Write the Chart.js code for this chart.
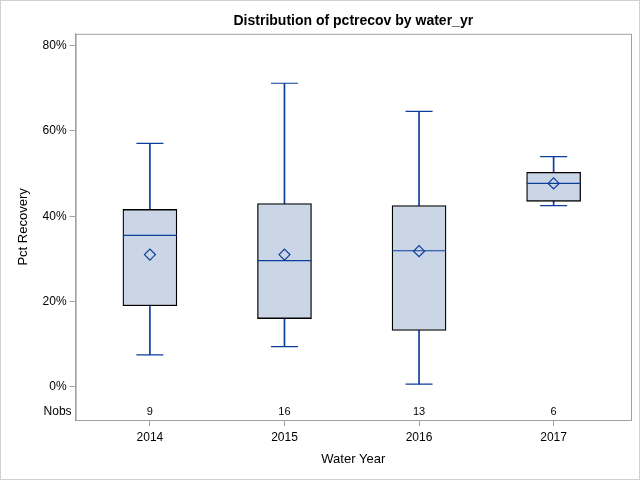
<!DOCTYPE html>
<html>
<head>
<meta charset="utf-8">
<script src="https://cdn.jsdelivr.net/npm/chart.js@4/dist/chart.umd.min.js"></script>
<style>
  body { margin: 0; background: #fff; }
  #wrap { width: 638px; height: 478px; border: 1px solid #d0d0d0; }
</style>
</head>
<body>
<div id="wrap"><canvas id="boxChart" width="638" height="478"></canvas></div>
<script>
// water years and box stats (pct recovery, %)
const years = [2014, 2015, 2016, 2017];
const minVals = [7.5, 9.4, 0.6, 42.5];
const q1Vals = [19.0, 16.0, 13.2, 43.5];
const medianVals = [35.5, 29.6, 31.9, 47.7];
const meanVals = [31.0, 31.0, 31.8, 47.7];
const q3Vals = [41.6, 43.0, 42.5, 50.3];
const maxVals = [57.1, 71.2, 64.6, 54.0];
const nobs = [9, 16, 13, 6];
const yTicks = [0, 20, 40, 60, 80];

const blue = "#0B3D9B";
const fill = "#CAD5E5";
const axisGrey = "#a0a0a0";
const font = "'Liberation Sans', Arial, sans-serif";

const pts = (vals) => years.map((yr, i) => ({ x: yr, y: vals[i] }));

// frame, nobs row
const extras = {
    id: "extras",
    afterDraw(chart) {
        const ctx = chart.ctx;
        const area = chart.chartArea;
        const xs = chart.scales.x;
        ctx.save();
        ctx.strokeStyle = axisGrey;
        ctx.lineWidth = 1;
        ctx.strokeRect(area.left + 0.5, area.top + 0.5, area.right - area.left, area.bottom - area.top);
        ctx.fillStyle = "#000";
        ctx.font = "11px " + font;
        ctx.textAlign = "center";
        ctx.textBaseline = "middle";
        nobs.forEach((n, i) => {
            ctx.fillText(String(n), xs.getPixelForValue(years[i]), area.bottom - 8);
        });
        ctx.font = "12px " + font;
        ctx.textAlign = "right";
        ctx.fillText("Nobs", area.left - 4, area.bottom - 8);
        ctx.restore();
    },
};

new Chart(document.getElementById("boxChart"), {
    data: {
        datasets: [
            {
                type: "bar",
                label: "whisker",
                data: years.map((yr, i) => ({ x: yr, y: [minVals[i], maxVals[i]] })),
                backgroundColor: blue,
                borderWidth: 0,
                barThickness: 1,
                grouped: false,
                order: 5,
            },
            {
                type: "bar",
                label: "box",
                data: years.map((yr, i) => ({ x: yr, y: [q1Vals[i], q3Vals[i]] })),
                backgroundColor: fill,
                borderColor: "#000",
                borderWidth: 1.3,
                borderSkipped: false,
                barThickness: 54,
                grouped: false,
                order: 4,
            },
            {
                type: "line",
                label: "caps",
                data: pts(minVals).concat(pts(maxVals)),
                showLine: false,
                pointStyle: "line",
                pointRadius: 13.5,
                pointBorderColor: blue,
                pointBorderWidth: 1.2,
                order: 3,
            },
            {
                type: "line",
                label: "median",
                data: pts(medianVals),
                showLine: false,
                pointStyle: "line",
                pointRadius: 27,
                pointBorderColor: blue,
                pointBorderWidth: 1.2,
                order: 2,
            },
            {
                type: "line",
                label: "mean",
                data: pts(meanVals),
                showLine: false,
                pointStyle: "rectRot",
                pointRadius: 5.5,
                pointBackgroundColor: "rgba(0,0,0,0)",
                pointBorderColor: blue,
                pointBorderWidth: 1.2,
                order: 1,
            },
        ],
    },
    options: {
        responsive: false,
        animation: false,
        events: [],
        layout: { autoPadding: false, padding: { top: 4, right: 8, left: 11, bottom: 8 } },
        plugins: {
            legend: { display: false },
            tooltip: { enabled: false },
            title: {
                display: true,
                fullSize: false,
                text: "Distribution of pctrecov by water_yr",
                color: "#000",
                font: { family: font, size: 14, weight: "bold" },
                padding: { top: 8, bottom: 4 },
            },
        },
        scales: {
            x: {
                type: "linear",
                offset: false,
                min: 2013.448,
                max: 2017.575,
                afterBuildTicks: (axis) => { axis.ticks = years.map((v) => ({ value: v })); },
                ticks: {
                    callback: (v) => String(v),
                    color: "#000",
                    font: { family: font, size: 12 },
                    padding: 4,
                },
                grid: { offset: false, drawOnChartArea: false, drawTicks: true, tickLength: 6, color: axisGrey },
                border: { color: axisGrey },
                title: {
                    display: true,
                    text: "Water Year",
                    color: "#000",
                    font: { family: font, size: 13 },
                    padding: { top: 3 },
                },
            },
            y: {
                min: -7.8,
                max: 82.8,
                afterBuildTicks: (axis) => { axis.ticks = yTicks.map((v) => ({ value: v })); },
                ticks: {
                    callback: (v) => v + "%",
                    color: "#000",
                    font: { family: font, size: 12 },
                    padding: 3,
                },
                grid: { drawOnChartArea: false, drawTicks: true, tickLength: 6, color: axisGrey },
                border: { color: axisGrey },
                title: {
                    display: true,
                    text: "Pct Recovery",
                    color: "#000",
                    font: { family: font, size: 13 },
                    padding: { bottom: 8 },
                },
            },
        },
    },
    plugins: [extras],
});
</script>
</body>
</html>
